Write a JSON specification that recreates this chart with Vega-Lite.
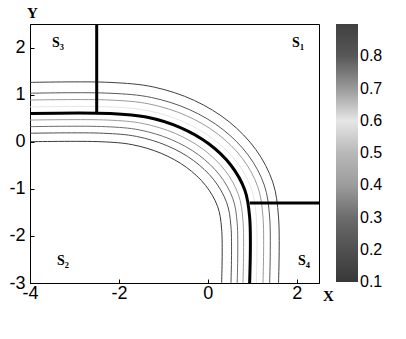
{
  "$schema": "https://vega.github.io/schema/vega-lite/v6.json",
  "width": 289,
  "height": 259,
  "autosize": "none",
  "padding": {"left": 30, "top": 24, "right": 87, "bottom": 56},
  "background": "white",
  "config": {
    "view": {"stroke": "black", "strokeWidth": 1},
    "axis": {"grid": false, "labelFont": "Liberation Sans", "labelFontSize": 18, "labelColor": "black", "domainColor": "black", "tickColor": "black", "titleFont": "Liberation Serif", "titleFontWeight": "bold", "titleFontSize": 15, "titleColor": "black"}
  },
  "datasets": {
    "contours": [
      {"c":0.1,"i":0,"x":-4,"y":0},{"c":0.1,"i":1,"x":-2.4,"y":0},{"c":0.1,"i":2,"x":-1.699,"y":-0.063},{"c":0.1,"i":3,"x":-1.045,"y":-0.248},{"c":0.1,"i":4,"x":-0.484,"y":-0.542},{"c":0.1,"i":5,"x":-0.053,"y":-0.925},{"c":0.1,"i":6,"x":0.218,"y":-1.371},{"c":0.1,"i":7,"x":0.31,"y":-1.85},{"c":0.1,"i":8,"x":0.31,"y":-3},
      {"c":0.2,"i":0,"x":-4,"y":0.18},{"c":0.2,"i":1,"x":-2.35,"y":0.18},{"c":0.2,"i":2,"x":-1.607,"y":0.113},{"c":0.2,"i":3,"x":-0.915,"y":-0.085},{"c":0.2,"i":4,"x":-0.321,"y":-0.4},{"c":0.2,"i":5,"x":0.135,"y":-0.81},{"c":0.2,"i":6,"x":0.422,"y":-1.288},{"c":0.2,"i":7,"x":0.52,"y":-1.8},{"c":0.2,"i":8,"x":0.52,"y":-3},
      {"c":0.3,"i":0,"x":-4,"y":0.32},{"c":0.3,"i":1,"x":-2.3,"y":0.32},{"c":0.3,"i":2,"x":-1.534,"y":0.25},{"c":0.3,"i":3,"x":-0.82,"y":0.045},{"c":0.3,"i":4,"x":-0.207,"y":-0.28},{"c":0.3,"i":5,"x":0.263,"y":-0.705},{"c":0.3,"i":6,"x":0.559,"y":-1.199},{"c":0.3,"i":7,"x":0.66,"y":-1.73},{"c":0.3,"i":8,"x":0.66,"y":-3},
      {"c":0.4,"i":0,"x":-4,"y":0.46},{"c":0.4,"i":1,"x":-2.25,"y":0.46},{"c":0.4,"i":2,"x":-1.463,"y":0.387},{"c":0.4,"i":3,"x":-0.73,"y":0.175},{"c":0.4,"i":4,"x":-0.1,"y":-0.164},{"c":0.4,"i":5,"x":0.383,"y":-0.605},{"c":0.4,"i":6,"x":0.686,"y":-1.119},{"c":0.4,"i":7,"x":0.79,"y":-1.67},{"c":0.4,"i":8,"x":0.79,"y":-3},
      {"c":0.5,"i":0,"x":-4,"y":0.6},{"c":0.5,"i":1,"x":-2.2,"y":0.6},{"c":0.5,"i":2,"x":-1.387,"y":0.525},{"c":0.5,"i":3,"x":-0.63,"y":0.305},{"c":0.5,"i":4,"x":0.02,"y":-0.044},{"c":0.5,"i":5,"x":0.519,"y":-0.5},{"c":0.5,"i":6,"x":0.833,"y":-1.031},{"c":0.5,"i":7,"x":0.94,"y":-1.6},{"c":0.5,"i":8,"x":0.94,"y":-3},
      {"c":0.6,"i":0,"x":-4,"y":0.74},{"c":0.6,"i":1,"x":-2.2,"y":0.74},{"c":0.6,"i":2,"x":-1.349,"y":0.66},{"c":0.6,"i":3,"x":-0.555,"y":0.426},{"c":0.6,"i":4,"x":0.126,"y":0.055},{"c":0.6,"i":5,"x":0.649,"y":-0.43},{"c":0.6,"i":6,"x":0.978,"y":-0.994},{"c":0.6,"i":7,"x":1.09,"y":-1.6},{"c":0.6,"i":8,"x":1.09,"y":-3},
      {"c":0.7,"i":0,"x":-4,"y":0.885},{"c":0.7,"i":1,"x":-2.2,"y":0.885},{"c":0.7,"i":2,"x":-1.31,"y":0.8},{"c":0.7,"i":3,"x":-0.48,"y":0.552},{"c":0.7,"i":4,"x":0.232,"y":0.157},{"c":0.7,"i":5,"x":0.779,"y":-0.357},{"c":0.7,"i":6,"x":1.123,"y":-0.957},{"c":0.7,"i":7,"x":1.24,"y":-1.6},{"c":0.7,"i":8,"x":1.24,"y":-3},
      {"c":0.8,"i":0,"x":-4,"y":1.03},{"c":0.8,"i":1,"x":-2.2,"y":1.03},{"c":0.8,"i":2,"x":-1.271,"y":0.94},{"c":0.8,"i":3,"x":-0.405,"y":0.678},{"c":0.8,"i":4,"x":0.338,"y":0.26},{"c":0.8,"i":5,"x":0.909,"y":-0.285},{"c":0.8,"i":6,"x":1.268,"y":-0.919},{"c":0.8,"i":7,"x":1.39,"y":-1.6},{"c":0.8,"i":8,"x":1.39,"y":-3},
      {"c":0.9,"i":0,"x":-4,"y":1.26},{"c":0.9,"i":1,"x":-2.2,"y":1.26},{"c":0.9,"i":2,"x":-1.219,"y":1.162},{"c":0.9,"i":3,"x":-0.305,"y":0.877},{"c":0.9,"i":4,"x":0.48,"y":0.422},{"c":0.9,"i":5,"x":1.082,"y":-0.17},{"c":0.9,"i":6,"x":1.461,"y":-0.86},{"c":0.9,"i":7,"x":1.59,"y":-1.6},{"c":0.9,"i":8,"x":1.59,"y":-3}
    ],
    "walls": [
      {"x":-2.5,"y":0.6,"x2":-2.5,"y2":2.5},
      {"x":0.94,"y":-1.3,"x2":2.5,"y2":-1.3}
    ],
    "labels": [
      {"label":"S₃","x":-3.37,"y":2.1},
      {"label":"S₁","x":2.03,"y":2.1},
      {"label":"S₂","x":-3.26,"y":-2.54},
      {"label":"S₄","x":2.16,"y":-2.54}
    ]
  },
  "layer": [
    {
      "data": {"name": "contours"},
      "mark": {"type": "line", "interpolate": "catmull-rom", "strokeWidth": 1, "clip": true},
      "encoding": {
        "x": {"field": "x", "type": "quantitative", "scale": {"domain": [-4, 2.5], "nice": false, "zero": false},
              "axis": {"values": [-4, -2, 0, 2], "labelExpr": "toString(datum.value)", "title": "X", "titleAngle": 0, "titleX": 298, "titleY": 12, "titleAlign": "center", "titleBaseline": "middle", "tickSize": -4, "labelPadding": 5, "labelFlush": false}},
        "y": {"field": "y", "type": "quantitative", "scale": {"domain": [-3, 2.5], "nice": false, "zero": false},
              "axis": {"values": [-3, -2, -1, 0, 1, 2], "labelExpr": "toString(datum.value)", "title": "Y", "titleAngle": 0, "titleX": 2, "titleY": -12, "titleAlign": "center", "titleBaseline": "middle", "tickSize": -4, "labelPadding": 9, "labelFlush": false}},
        "color": {"field": "c", "type": "quantitative",
                  "scale": {"domain": [0.1, 0.2, 0.3, 0.4, 0.5, 0.6, 0.7, 0.8, 0.9], "range": ["#383838", "#505050", "#6c6c6c", "#9c9c9c", "#b8b8b8", "#e6e6e6", "#9a9a9a", "#585858", "#404040"]},
                  "legend": {"title": null, "values": [0.1, 0.2, 0.3, 0.4, 0.5, 0.6, 0.7, 0.8], "gradientLength": 258, "gradientThickness": 22, "gradientStrokeWidth": 0, "labelFont": "Liberation Sans", "labelFontSize": 16, "labelColor": "black", "offset": 17, "padding": 0,
                             "encode": {"labels": {"update": {"baseline": {"value": "middle"}}}}}},
        "detail": {"field": "c"},
        "order": {"field": "i", "type": "quantitative"}
      }
    },
    {
      "data": {"name": "contours"},
      "transform": [{"filter": "datum.c == 0.5"}],
      "mark": {"type": "line", "interpolate": "catmull-rom", "strokeWidth": 3, "color": "black", "clip": true},
      "encoding": {
        "x": {"field": "x", "type": "quantitative"},
        "y": {"field": "y", "type": "quantitative"},
        "order": {"field": "i", "type": "quantitative"}
      }
    },
    {
      "data": {"name": "walls"},
      "mark": {"type": "rule", "strokeWidth": 3, "color": "black"},
      "encoding": {
        "x": {"field": "x", "type": "quantitative"},
        "y": {"field": "y", "type": "quantitative"},
        "x2": {"field": "x2"},
        "y2": {"field": "y2"}
      }
    },
    {
      "data": {"name": "labels"},
      "mark": {"type": "text", "font": "Liberation Serif", "fontWeight": "bold", "fontSize": 14, "color": "black"},
      "encoding": {
        "x": {"field": "x", "type": "quantitative"},
        "y": {"field": "y", "type": "quantitative"},
        "text": {"field": "label"}
      }
    }
  ]
}
